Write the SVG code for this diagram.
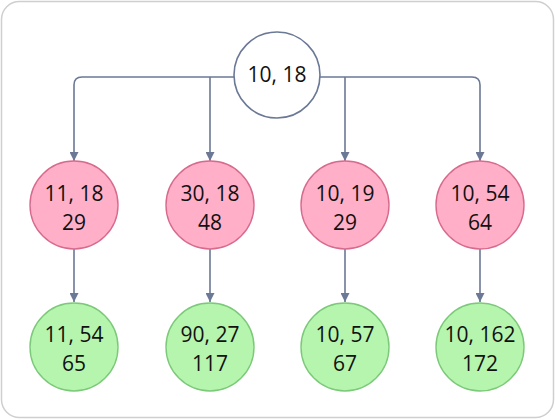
<svg xmlns="http://www.w3.org/2000/svg" width="555" height="420" viewBox="0 0 555 420">
<style>
.edge{fill:none;stroke:#6b7896;stroke-width:1.6}
.root{fill:#ffffff;stroke:#6b7896;stroke-width:1.6}
.red{fill:#ffb0c8;stroke:#d86a8e;stroke-width:1.4}
.green{fill:#b6f5ae;stroke:#7cc97a;stroke-width:1.4}
text{font-family:"Open Sans","Noto Sans",sans-serif;font-size:21px;fill:#111;text-anchor:middle}
</style>
<defs>
<marker id="ah" viewBox="0 0 10 10" refX="10" refY="5" markerWidth="9" markerHeight="9" markerUnits="userSpaceOnUse" orient="auto">
<path d="M0,0 L10,5 L0,10 Z" fill="#6b7896"/>
</marker>
</defs>
<rect x="1.5" y="1.5" width="552" height="416" rx="18" fill="#fff" stroke="#cfcfcf" stroke-width="1.5"/>
<g id="connectors">
<path class="edge" d="M234,77 H82 Q74,77 74,85 V161" marker-end="url(#ah)"/>
<path class="edge" d="M210,77 V161" marker-end="url(#ah)"/>
<path class="edge" d="M345,77 V161" marker-end="url(#ah)"/>
<path class="edge" d="M320,77 H472 Q480,77 480,85 V161" marker-end="url(#ah)"/>
<path class="edge" d="M74,249 V302" marker-end="url(#ah)"/>
<path class="edge" d="M210,249 V302" marker-end="url(#ah)"/>
<path class="edge" d="M345,249 V302" marker-end="url(#ah)"/>
<path class="edge" d="M480,249 V302" marker-end="url(#ah)"/>
</g>
<g id="n0"><circle class="root" cx="277" cy="75" r="43"/><text x="277" y="82">10, 18</text></g>
<g id="r1"><circle class="red" cx="74" cy="205" r="44"/><text x="74" y="201">11, 18</text><text x="74" y="230">29</text></g>
<g id="r2"><circle class="red" cx="210" cy="205" r="44"/><text x="210" y="201">30, 18</text><text x="210" y="230">48</text></g>
<g id="r3"><circle class="red" cx="345" cy="205" r="44"/><text x="345" y="201">10, 19</text><text x="345" y="230">29</text></g>
<g id="r4"><circle class="red" cx="480" cy="205" r="44"/><text x="480" y="201">10, 54</text><text x="480" y="230">64</text></g>
<g id="g1"><circle class="green" cx="74" cy="347" r="44"/><text x="74" y="342">11, 54</text><text x="74" y="371">65</text></g>
<g id="g2"><circle class="green" cx="210" cy="347" r="44"/><text x="210" y="342">90, 27</text><text x="210" y="371">117</text></g>
<g id="g3"><circle class="green" cx="345" cy="347" r="44"/><text x="345" y="342">10, 57</text><text x="345" y="371">67</text></g>
<g id="g4"><circle class="green" cx="480" cy="347" r="44"/><text x="480" y="342">10, 162</text><text x="480" y="371">172</text></g>
</svg>
